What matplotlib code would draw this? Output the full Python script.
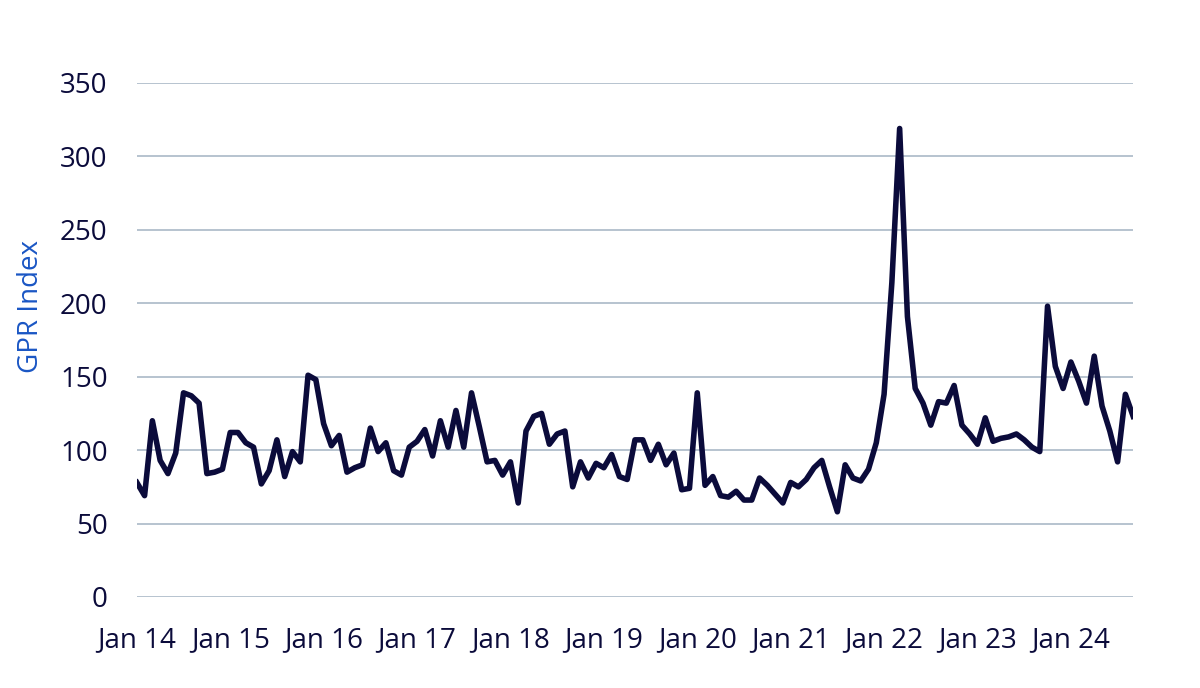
import matplotlib.pyplot as plt
import numpy as np

# GPR index, monthly, Jan 2014 - Sep 2024
gpr_2014 = [78, 69, 120, 93, 84, 98, 139, 137, 132, 84, 85, 87]
gpr_2015 = [112, 112, 105, 102, 77, 86, 107, 82, 99, 92, 151, 148]
gpr_2016 = [118, 103, 110, 85, 88, 90, 115, 99, 105, 86, 83, 102]
gpr_2017 = [106, 114, 96, 120, 102, 127, 102, 139, 116, 92, 93, 83]
gpr_2018 = [92, 64, 113, 123, 125, 104, 111, 113, 75, 92, 81, 91]
gpr_2019 = [88, 97, 82, 80, 107, 107, 93, 104, 90, 98, 73, 74]
gpr_2020 = [139, 76, 82, 69, 68, 72, 66, 66, 81, 76, 70, 64]
gpr_2021 = [78, 75, 80, 88, 93, 75, 58, 90, 81, 79, 87, 105]
gpr_2022 = [138, 214, 319, 191, 142, 132, 117, 133, 132, 144, 117, 111]
gpr_2023 = [104, 122, 106, 108, 109, 111, 107, 102, 99, 198, 157, 142]
gpr_2024 = [160, 147, 132, 164, 130, 113, 92, 138, 123]

gpr = (gpr_2014 + gpr_2015 + gpr_2016 + gpr_2017 + gpr_2018 + gpr_2019
       + gpr_2020 + gpr_2021 + gpr_2022 + gpr_2023 + gpr_2024)
meses = np.arange(len(gpr))

etiquetas_x = ['Jan 14', 'Jan 15', 'Jan 16', 'Jan 17', 'Jan 18', 'Jan 19',
               'Jan 20', 'Jan 21', 'Jan 22', 'Jan 23', 'Jan 24']
ticks_y = [0, 50, 100, 150, 200, 250, 300, 350]

plt.rcParams['font.family'] = ['Open Sans', 'DejaVu Sans']

fig = plt.figure(figsize=(12, 6.88), dpi=100)
ax = fig.add_axes([0.114, 0.1323, 0.8303, 0.7471])

ax.plot(meses, gpr, color='#0b0b3b', linewidth=4.0, solid_joinstyle='round', zorder=3)

ax.set_xlim(0, len(gpr) - 1)
ax.set_ylim(0, 350)
ax.set_xticks(np.arange(0, len(gpr), 12))
ax.set_xticklabels(etiquetas_x)
ax.set_yticks(ticks_y)

ax.grid(axis='y', color='#b7c3cf', linewidth=1.4)
ax.set_axisbelow(True)
for s in ax.spines.values():
    s.set_visible(False)
ax.tick_params(axis='both', length=0, labelsize=20, colors='#0b0b3b')
ax.tick_params(axis='x', pad=21)
ax.tick_params(axis='y', pad=21)

fig.text(0.026, 0.554, 'GPR Index', rotation=90, color='#1a56c4', fontsize=20,
         ha='center', va='center')

plt.savefig('out.png', dpi=100)
